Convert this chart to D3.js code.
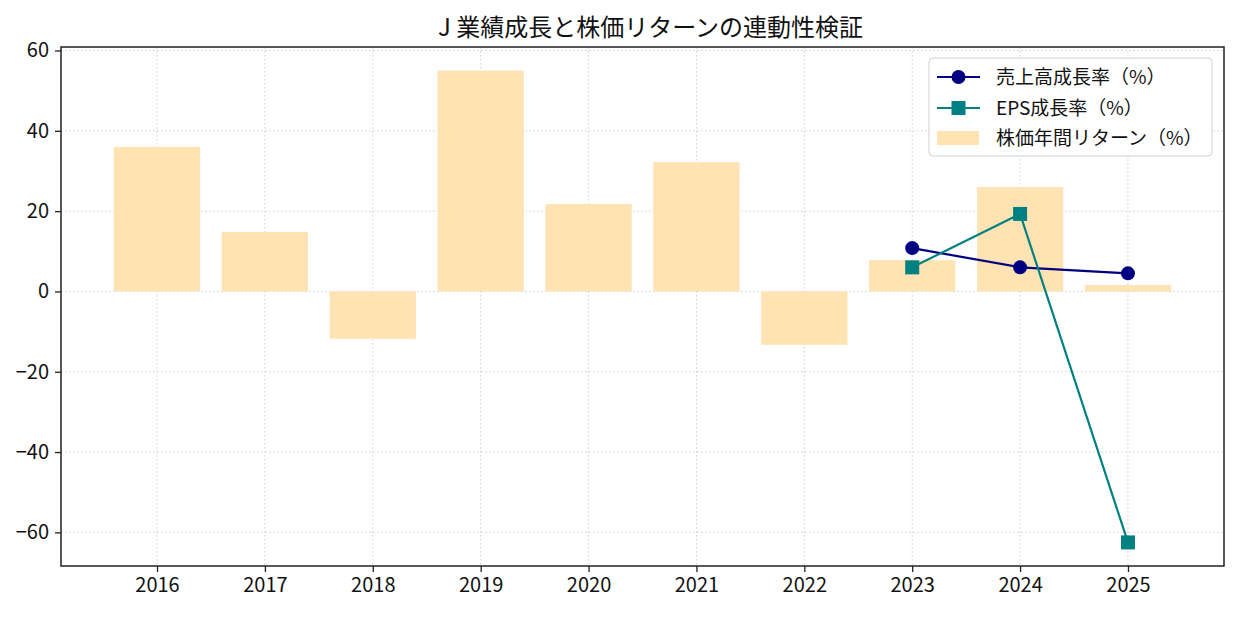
<!DOCTYPE html>
<html>
<head>
<meta charset="utf-8">
<script src="https://cdn.jsdelivr.net/npm/d3@7"></script>
<style>
    body { margin: 0; background: #fff; }
    text { font-family: "Noto Sans CJK JP", "Noto Sans", sans-serif; fill: #111; }
</style>
</head>
<body>
<div id="chart"></div>
<script>
// data
var years = ["2016", "2017", "2018", "2019", "2020", "2021", "2022", "2023", "2024", "2025"];
var stockReturn = [36.0, 14.8, -11.8, 55.0, 21.8, 32.2, -13.3, 7.8, 26.0, 1.6];
var salesYears = ["2023", "2024", "2025"];
var salesGrowth = [10.8, 6.0, 4.5];
var epsYears = ["2023", "2024", "2025"];
var epsGrowth = [6.0, 19.3, -62.5];
var yTicks = [-60, -40, -20, 0, 20, 40, 60];

var title = "J 業績成長と株価リターンの連動性検証";
var legendLabels = ["売上高成長率（%）", "EPS成長率（%）", "株価年間リターン（%）"];

var width = 1238, height = 617;
var margin = {left: 61, right: 14, top: 47, bottom: 51};

var svg = d3.select("#chart").append("svg")
    .attr("width", width)
    .attr("height", height);

svg.append("rect")
    .attr("width", width)
    .attr("height", height)
    .attr("fill", "#fff");

// scales (matplotlib style 5% margins)
var barW = 0.8;
var xMin = -barW/2, xMax = years.length - 1 + barW/2;
var xPad = (xMax - xMin) * 0.05;
var x = d3.scaleLinear()
    .domain([xMin - xPad, xMax + xPad])
    .range([margin.left, width - margin.right]);

var yLo = d3.min([d3.min(stockReturn), d3.min(salesGrowth), d3.min(epsGrowth), 0]);
var yHi = d3.max([d3.max(stockReturn), d3.max(salesGrowth), d3.max(epsGrowth), 0]);
var yPad = (yHi - yLo) * 0.05;
var y = d3.scaleLinear()
    .domain([yLo - yPad, yHi + yPad])
    .range([height - margin.bottom, margin.top]);

var idx = function(yr) { return years.indexOf(yr); };

// grid
var grid = svg.append("g").attr("class", "grid");
grid.selectAll(".vgrid")
    .data(years)
    .enter().append("line")
    .attr("x1", function(d, i) { return x(i); })
    .attr("x2", function(d, i) { return x(i); })
    .attr("y1", margin.top)
    .attr("y2", height - margin.bottom)
    .attr("stroke", "#cfcfcf")
    .attr("stroke-width", 1)
    .attr("stroke-dasharray", "1.5,2.5");
grid.selectAll(".hgrid")
    .data(yTicks)
    .enter().append("line")
    .attr("x1", margin.left)
    .attr("x2", width - margin.right)
    .attr("y1", function(d) { return y(d); })
    .attr("y2", function(d) { return y(d); })
    .attr("stroke", "#cfcfcf")
    .attr("stroke-width", 1)
    .attr("stroke-dasharray", "1.5,2.5");

// bars
svg.selectAll(".bar")
    .data(stockReturn)
    .enter().append("rect")
    .attr("class", "bar")
    .attr("x", function(d, i) { return x(i - barW/2); })
    .attr("width", x(barW) - x(0))
    .attr("y", function(d) { return y(Math.max(0, d)); })
    .attr("height", function(d) { return Math.abs(y(d) - y(0)); })
    .attr("fill", "#ffe3b3");

// lines
var line = d3.line()
    .x(function(d) { return x(idx(d[0])); })
    .y(function(d) { return y(d[1]); });

var salesData = d3.zip(salesYears, salesGrowth);
var epsData = d3.zip(epsYears, epsGrowth);

svg.append("path")
    .datum(salesData)
    .attr("d", line)
    .attr("fill", "none")
    .attr("stroke", "#000080")
    .attr("stroke-width", 2.2);

svg.selectAll(".salesDot")
    .data(salesData)
    .enter().append("circle")
    .attr("cx", function(d) { return x(idx(d[0])); })
    .attr("cy", function(d) { return y(d[1]); })
    .attr("r", 7)
    .attr("fill", "#000080");

svg.append("path")
    .datum(epsData)
    .attr("d", line)
    .attr("fill", "none")
    .attr("stroke", "#008080")
    .attr("stroke-width", 2.2);

svg.selectAll(".epsDot")
    .data(epsData)
    .enter().append("rect")
    .attr("x", function(d) { return x(idx(d[0])) - 7; })
    .attr("y", function(d) { return y(d[1]) - 7; })
    .attr("width", 14)
    .attr("height", 14)
    .attr("fill", "#008080");

// axes
var xAxis = d3.axisBottom(x)
    .tickValues(d3.range(years.length))
    .tickFormat(function(i) { return years[i]; })
    .tickSizeOuter(0)
    .tickSize(6)
    .tickPadding(6);
var yAxis = d3.axisLeft(y)
    .tickValues(yTicks)
    .tickFormat(function(d) { return d < 0 ? "\u2212" + Math.abs(d) : d; })
    .tickSizeOuter(0)
    .tickSize(6)
    .tickPadding(6);

var gx = svg.append("g")
    .attr("transform", "translate(0," + (height - margin.bottom) + ")")
    .call(xAxis);
var gy = svg.append("g")
    .attr("transform", "translate(" + margin.left + ",0)")
    .call(yAxis);
[gx, gy].forEach(function(g) {
    g.select(".domain").remove();
    g.selectAll(".tick line").attr("stroke", "#222").attr("stroke-width", 1.3);
    g.selectAll(".tick text")
        .attr("fill", "#111")
        .style("font-size", "20px")
        .style("font-family", "'Noto Sans CJK JP', sans-serif");
});

// frame
svg.append("rect")
    .attr("x", margin.left)
    .attr("y", margin.top)
    .attr("width", width - margin.left - margin.right)
    .attr("height", height - margin.top - margin.bottom)
    .attr("fill", "none")
    .attr("stroke", "#222")
    .attr("stroke-width", 1.5);

// title
svg.append("text")
    .attr("x", (margin.left + width - margin.right) / 2 + 8)
    .attr("y", 36)
    .style("text-anchor", "middle")
    .style("font-size", "24px")
    .text(title);

// legend
var lg = svg.append("g").attr("transform", "translate(929,58)");
lg.append("rect")
    .attr("width", 283)
    .attr("height", 98)
    .attr("rx", 4)
    .attr("ry", 4)
    .attr("fill", "#fff")
    .attr("fill-opacity", 0.85)
    .attr("stroke", "#d0d0d0")
    .attr("stroke-width", 1);

var rowY = [19, 50, 80];
lg.append("line").attr("x1", 8).attr("x2", 51).attr("y1", rowY[0]).attr("y2", rowY[0])
    .attr("stroke", "#000080").attr("stroke-width", 2.2);
lg.append("circle").attr("cx", 29.5).attr("cy", rowY[0]).attr("r", 7).attr("fill", "#000080");
lg.append("line").attr("x1", 8).attr("x2", 51).attr("y1", rowY[1]).attr("y2", rowY[1])
    .attr("stroke", "#008080").attr("stroke-width", 2.2);
lg.append("rect").attr("x", 22.5).attr("y", rowY[1] - 7).attr("width", 14).attr("height", 14)
    .attr("fill", "#008080");
lg.append("rect").attr("x", 8).attr("y", rowY[2] - 7).attr("width", 42).attr("height", 14)
    .attr("fill", "#ffe3b3");

lg.selectAll(".lgText")
    .data(legendLabels)
    .enter().append("text")
    .attr("x", 67)
    .attr("y", function(d, i) { return rowY[i]; })
    .attr("dy", "0.35em")
    .style("font-size", "19px")
    .text(function(d) { return d; });
</script>
</body>
</html>
